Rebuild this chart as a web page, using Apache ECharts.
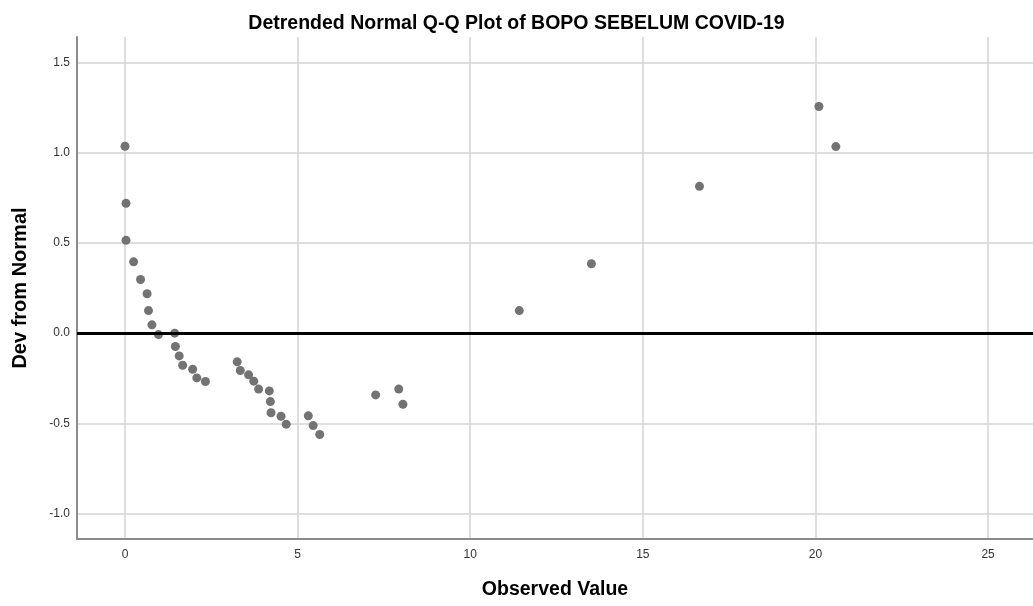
<!DOCTYPE html>
<html>
<head>
<meta charset="utf-8">
<title>Detrended Normal Q-Q Plot</title>
<script src="https://cdn.jsdelivr.net/npm/echarts@6/dist/echarts.min.js"></script>
<style>
  html, body { margin: 0; padding: 0; background: #fff; }
  #chart { width: 1033px; height: 606px; }
</style>
</head>
<body>
<div id="chart"></div>
<script>
const observed = [
  0.0, 0.03, 0.03, 0.25, 0.45, 0.64, 0.68, 0.78, 0.97, 1.44,
  1.46, 1.57, 1.67, 1.96, 2.08, 2.33, 3.25, 3.34, 3.58, 3.73,
  3.87, 4.18, 4.21, 4.23, 4.52, 4.67, 5.31, 5.45, 5.64, 7.26,
  7.93, 8.05, 11.42, 13.51, 16.64, 20.1, 20.59
];
const devFromNormal = [
  1.035, 0.719, 0.514, 0.395, 0.297, 0.218, 0.125, 0.046, -0.008, 0.0,
  -0.074, -0.126, -0.178, -0.2, -0.248, -0.268, -0.159, -0.207, -0.231, -0.266,
  -0.31, -0.32, -0.379, -0.441, -0.46, -0.504, -0.458, -0.512, -0.561, -0.342,
  -0.31, -0.394, 0.125, 0.384, 0.813, 1.255, 1.033
];
const xRange = [-1.39, 26.3];
const yRange = [-1.14, 1.64];

const points = observed.map((x, i) => [x, devFromNormal[i]]);

const chart = echarts.init(document.getElementById("chart"), null, { renderer: "canvas" });

const font = "Arial, 'Liberation Sans', sans-serif";

const option = {
  backgroundColor: "#ffffff",
  animation: false,
  title: {
    text: "Detrended Normal Q-Q Plot of BOPO SEBELUM COVID-19",
    left: "center",
    top: 9,
    textStyle: { fontFamily: font, fontSize: 19.5, fontWeight: "bold", color: "#000" }
  },
  grid: { left: 77, top: 37, right: 0, bottom: 67 },
  xAxis: {
    type: "value",
    min: xRange[0],
    max: xRange[1],
    name: "Observed Value",
    nameLocation: "middle",
    nameGap: 41,
    nameTextStyle: { fontFamily: font, fontSize: 19.5, fontWeight: "bold", color: "#000" },
    axisLine: { show: true, onZero: false, lineStyle: { color: "#8c8c8c", width: 2 } },
    axisTick: { show: false },
    splitLine: {
      show: true,
      showMinLine: false,
      showMaxLine: false,
      lineStyle: { color: "#d4d4d4", width: 1.5 }
    },
    axisLabel: {
      showMinLabel: false,
      showMaxLabel: false,
      margin: 10,
      fontFamily: font,
      fontSize: 12,
      color: "#333",
      formatter: v => (Math.abs(v % 5) < 1e-9 ? String(v) : "")
    }
  },
  yAxis: {
    type: "value",
    min: yRange[0],
    max: yRange[1],
    name: "Dev from Normal",
    nameLocation: "middle",
    nameGap: 47,
    nameTextStyle: { fontFamily: font, fontSize: 20, fontWeight: "bold", color: "#000" },
    axisLine: { show: true, onZero: false, lineStyle: { color: "#8c8c8c", width: 2 } },
    axisTick: { show: false },
    splitLine: {
      show: true,
      showMinLine: false,
      showMaxLine: false,
      lineStyle: { color: "#d4d4d4", width: 1.5 }
    },
    axisLabel: {
      showMinLabel: false,
      showMaxLabel: false,
      margin: 7,
      fontFamily: font,
      fontSize: 12,
      color: "#333",
      formatter: v => (Math.abs((v * 2) % 1) < 1e-9 ? v.toFixed(1) : "")
    }
  },
  series: [
    {
      type: "scatter",
      data: points,
      symbol: "circle",
      symbolSize: 9,
      itemStyle: { color: "#737373", opacity: 1 },
      markLine: {
        silent: true,
        symbol: ["none", "none"],
        label: { show: false },
        lineStyle: { color: "#000", width: 3, type: "solid" },
        data: [{ yAxis: 0 }]
      },
      z: 3
    }
  ]
};

chart.setOption(option);
</script>
</body>
</html>
